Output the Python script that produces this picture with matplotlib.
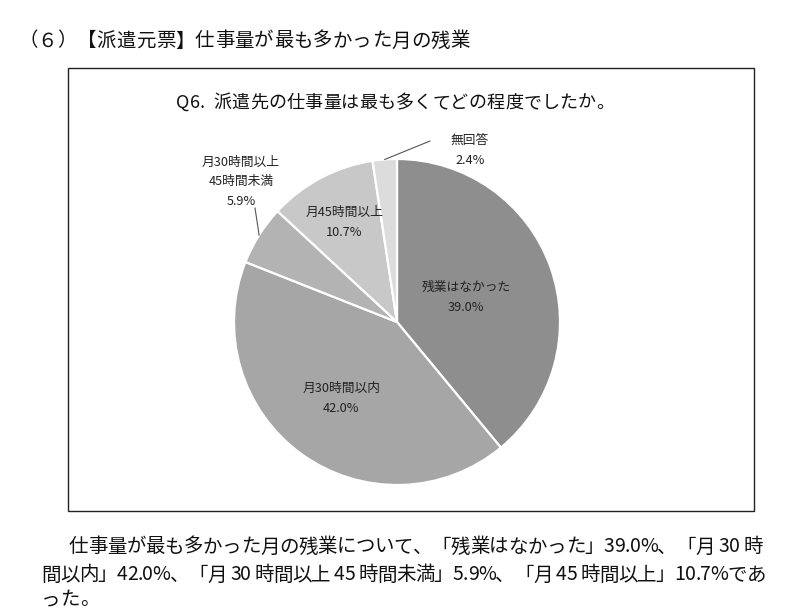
"""
Q6 pie chart: overtime in the busiest month (dispatch-origin survey).
"""

import matplotlib
matplotlib.use("Agg")
import matplotlib.pyplot as plt
import numpy as np
from matplotlib.patches import Rectangle

plt.rcParams["font.family"] = ["Noto Sans CJK JP", "DejaVu Sans"]

# data, clockwise from 12 o'clock
labels = [
    ["残業はなかった"],
    ["月30時間以内"],
    ["月30時間以上", "45時間未満"],
    ["月45時間以上"],
    ["無回答"],
]
values = [39.0, 42.0, 5.9, 10.7, 2.4]
colors = ["#8e8e8e", "#a6a6a6", "#b3b3b3", "#c8c8c8", "#dcdcdc"]

heading = "（６）【派遣元票】仕事量が最も多かった月の残業"
chart_title = "Q6.  派遣先の仕事量は最も多くてどの程度でしたか。"
body_lines = [
    "仕事量が最も多かった月の残業について、「残業はなかった」39.0%、「月 30 時",
    "間以内」42.0%、「月 30 時間以上 45 時間未満」5.9%、「月 45 時間以上」10.7%であ",
    "った。",
]

W, H = 797, 611
fig = plt.figure(figsize=(W / 100, H / 100), dpi=100)
renderer = fig.canvas.get_renderer()


def fx(px):
    return px / W


def fy(py):
    return 1 - py / H


_wcache = {}


def char_w(ch, size):
    # advance width in px, measured between two reference glyphs
    key = (ch, size)
    if key not in _wcache:
        t1 = fig.text(0, 0, "口" + ch + "口", fontsize=size)
        t0 = fig.text(0, 0, "口口", fontsize=size)
        _wcache[key] = (t1.get_window_extent(renderer).width
                        - t0.get_window_extent(renderer).width)
        t1.remove()
        t0.remove()
    return _wcache[key]


def justified(s, left, right, y, size, color="#111111"):
    # place characters one by one so the line spans left..right (like the source doc)
    ws = [char_w(c, size) for c in s]
    gap = 0.0
    if right is not None and len(s) > 1:
        gap = (right - left - sum(ws)) / (len(s) - 1)
    x = left
    for c, w in zip(s, ws):
        if c != " ":
            fig.text(fx(x), fy(y), c, fontsize=size, ha="left", va="center", color=color)
        x += w + gap


justified(heading, 18, 470, 41, 14)

# frame around the chart
fig.patches.append(Rectangle((fx(68), fy(511)), fx(754) - fx(68), fy(68) - fy(511),
                             transform=fig.transFigure, fill=False,
                             edgecolor="#222222", linewidth=1.0))
justified(chart_title, 176, 614, 103, 13)

# pie axes: centre (397, 322), radius 163 px
cx, cy, R = 397, 322, 163
ax = fig.add_axes([fx(cx - R), fy(cy + R), (2 * R) / W, (2 * R) / H])
wedges, _ = ax.pie(values, colors=colors, startangle=90, counterclock=False,
                   radius=1.0, wedgeprops=dict(edgecolor="white", linewidth=1.6))
ax.set_xlim(-1, 1)
ax.set_ylim(-1, 1)
ax.set_aspect("equal")
ax.axis("off")

line_step = 20 / R  # ~20px between label lines
lab_size = 9.2


def put_lines(x, y, lines):
    n = len(lines)
    for i, s in enumerate(lines):
        yy = y + (n - 1) / 2 * line_step - i * line_step
        ax.text(x, yy, s, fontsize=lab_size, ha="center", va="center",
                color="#222222", clip_on=False)


total = sum(values)
cum = np.cumsum([0] + values[:-1])
mid_deg = [(c + v / 2) / total * 360 for c, v in zip(cum, values)]  # clockwise from top

inside = {0: 0.45, 1: 0.58, 3: 0.69}
for i, r in inside.items():
    th = np.radians(mid_deg[i])
    x, y = r * np.sin(th), r * np.cos(th)
    put_lines(x, y, labels[i] + [f"{values[i]:.1f}%"])

# outside labels with leader lines: (text centre, line start) in pie units
outside = {
    2: ((-0.957, 0.859), (-0.871, 0.699)),
    4: ((0.448, 1.052), (0.202, 1.110)),
}
for i, ((tx, ty), (lx, ly)) in outside.items():
    th = np.radians(mid_deg[i])
    ex, ey = np.sin(th), np.cos(th)
    ax.plot([lx, ex], [ly, ey], color="#555555", linewidth=0.8, clip_on=False)
    put_lines(tx, ty, labels[i] + [f"{values[i]:.1f}%"])

justified(body_lines[0], 69, 763, 547, 14)
justified(body_lines[1], 41, 766, 575, 14)
justified(body_lines[2], 41, None, 600, 14)

fig.savefig("out.png", dpi=100, facecolor="white")
